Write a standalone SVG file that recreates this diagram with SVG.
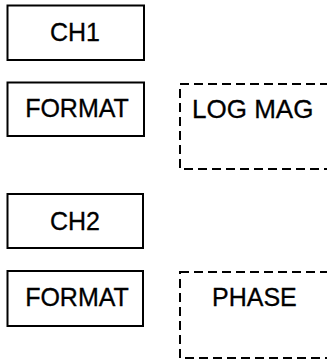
<svg xmlns="http://www.w3.org/2000/svg" width="327" height="361" viewBox="0 0 327 361">
<style>
.key{fill:#fff;stroke:#000;stroke-width:2}
.disp{fill:none;stroke:#000;stroke-width:2;stroke-dasharray:9 5}
.t{font-family:"Liberation Sans",Arial,sans-serif;fill:#000;stroke:#000;stroke-width:0.3}
</style>
<rect width="327" height="361" fill="#fff"/>
<g id="ch1"><rect class="key" x="7.5" y="5.5" width="136.5" height="54.5"/><text class="t" x="75" y="40.5" font-size="25" text-anchor="middle">CH1</text></g>
<g id="format1"><rect class="key" x="7.5" y="82.5" width="136.5" height="53.5"/><text class="t" x="77" y="117" font-size="25" text-anchor="middle">FORMAT</text></g>
<g id="logmag"><rect class="disp" x="180" y="84" width="160" height="85"/><text class="t" x="192" y="118" font-size="26">LOG MAG</text></g>
<g id="ch2"><rect class="key" x="7.5" y="194" width="135.5" height="54"/><text class="t" x="75" y="230" font-size="25" text-anchor="middle">CH2</text></g>
<g id="format2"><rect class="key" x="7.5" y="271" width="135.5" height="55"/><text class="t" x="77" y="306" font-size="25" text-anchor="middle">FORMAT</text></g>
<g id="phase"><rect class="disp" x="180" y="272" width="160" height="86"/><text class="t" x="212" y="306" font-size="25">PHASE</text></g>
<g id="connectors"></g>
</svg>
